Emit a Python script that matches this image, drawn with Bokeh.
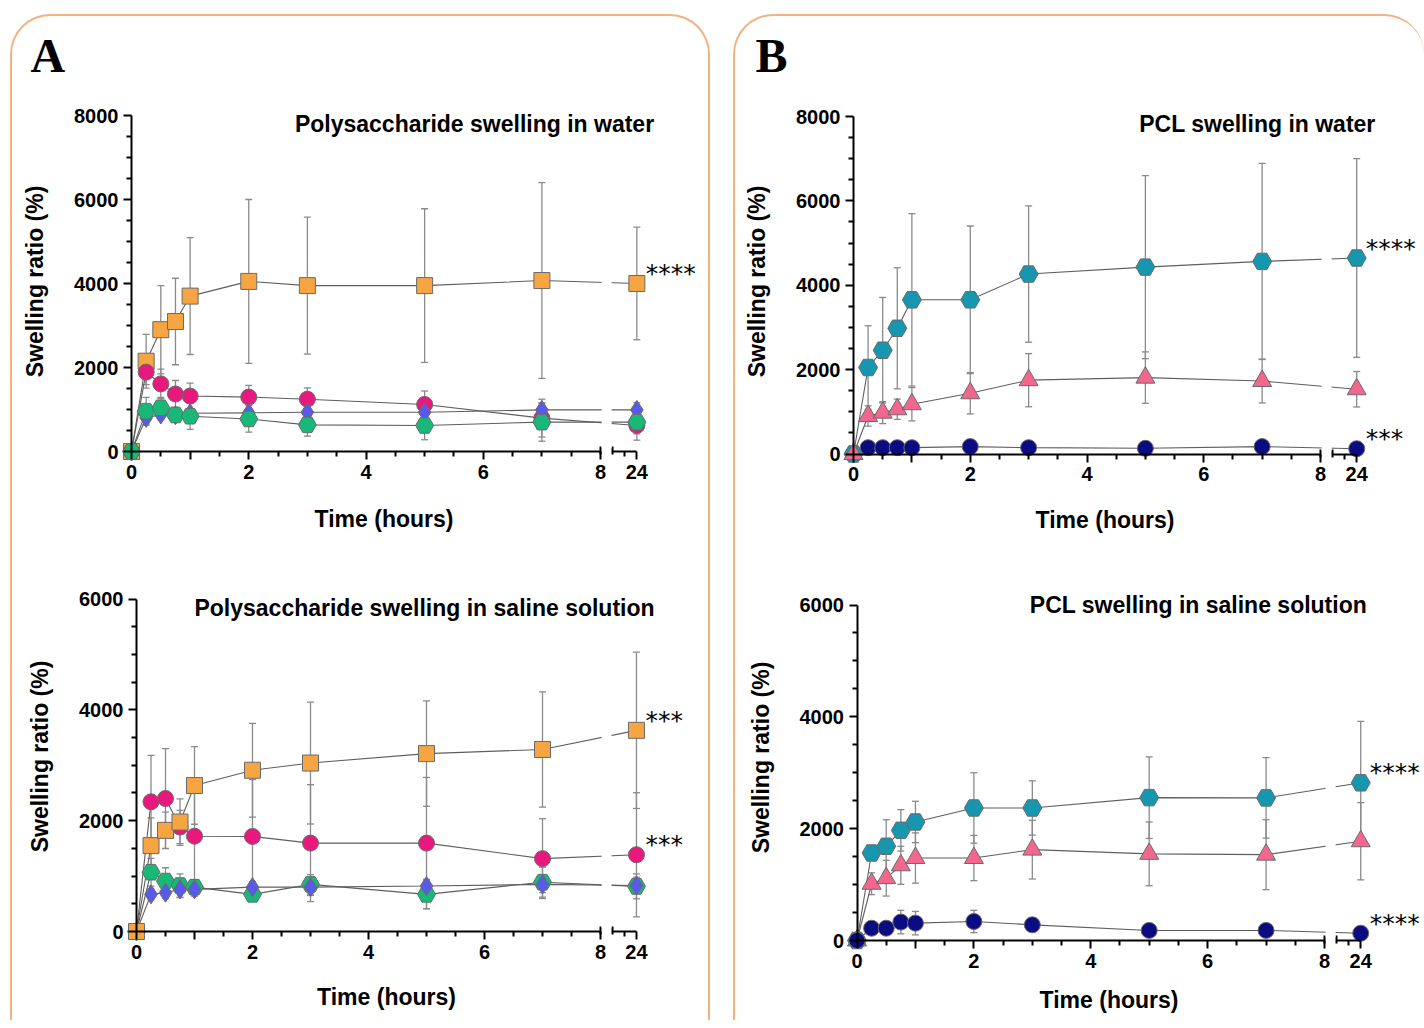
from bokeh.plotting import figure
from bokeh.models import (ColumnDataSource, Whisker, TeeHead, FixedTicker, LinearAxis, Label,
                          BoxAnnotation, Range1d, CustomJSTickFormatter)
from bokeh.layouts import column, row
from bokeh.embed import file_html
from bokeh.resources import INLINE
from bokeh.core.properties import value

# ---------------- data ----------------
TIMES = [0, 0.25, 0.5, 0.75, 1, 2, 3, 5, 7, 24]
X_MAJOR = [0, 1, 2, 4, 6, 8]
X_MINOR = [0.5, 1.5, 2.5, 3, 3.5, 4.5, 5, 5.5, 6.5, 7, 7.5]
BREAK_LABEL_HOUR = 24

# Panel A - polysaccharide in water
AW_SQUARE = [0, 2150, 2900, 3095, 3700, 4050, 3950, 3950, 4070, 4000]
AW_SQUARE_SD = [0, 640, 1050, 1030, 1390, 1950, 1630, 1830, 2330, 1340]
AW_CIRCLE = [0, 1890, 1610, 1370, 1320, 1295, 1245, 1120, 795, 620]
AW_CIRCLE_SD = [0, 300, 350, 320, 310, 280, 270, 320, 450, 350]
AW_DIAMOND = [0, 800, 880, 865, 910, 920, 935, 935, 990, 990]
AW_DIAMOND_SD = [0, 150, 120, 110, 100, 90, 80, 100, 160, 170]
AW_HEX = [0, 960, 1040, 870, 840, 775, 635, 620, 700, 700]
AW_HEX_SD = [0, 330, 250, 150, 315, 315, 270, 340, 455, 280]

# Panel A - polysaccharide in saline
AS_SQUARE = [0, 1550, 1825, 1975, 2635, 2910, 3040, 3210, 3285, 3630]
AS_SQUARE_SD = [0, 500, 330, 420, 700, 845, 1100, 950, 1040, 1410]
AS_CIRCLE = [0, 2340, 2400, 1885, 1720, 1715, 1595, 1595, 1315, 1385]
AS_CIRCLE_SD = [0, 840, 900, 300, 800, 1025, 1055, 1185, 720, 1120]
AS_DIAMOND = [0, 670, 700, 760, 760, 800, 800, 820, 850, 830]
AS_DIAMOND_SD = [0, 100, 100, 150, 120, 100, 150, 120, 150, 150]
AS_HEX = [0, 1070, 910, 830, 800, 670, 850, 670, 890, 815]
AS_HEX_SD = [0, 250, 240, 210, 100, 120, 175, 260, 270, 225]

# Panel B - PCL in water
BW_HEX = [0, 2050, 2460, 2980, 3655, 3655, 4265, 4430, 4565, 4645]
BW_HEX_SD = [0, 990, 1250, 1435, 2045, 1750, 1615, 2170, 2325, 2355]
BW_TRI = [0, 900, 980, 1060, 1180, 1440, 1750, 1810, 1730, 1535]
BW_TRI_SD = [0, 240, 260, 240, 395, 490, 630, 610, 520, 420]
BW_CIRCLE = [0, 150, 150, 150, 150, 175, 150, 135, 175, 125]
BW_CIRCLE_SD = [0, 20, 20, 20, 20, 30, 20, 20, 30, 20]

# Panel B - PCL in saline
BS_HEX = [0, 1565, 1685, 1970, 2120, 2370, 2370, 2555, 2550, 2820]
BS_HEX_SD = [0, 120, 475, 370, 370, 630, 485, 730, 720, 1100]
BS_TRI = [0, 1015, 1115, 1345, 1475, 1475, 1625, 1550, 1535, 1775]
BS_TRI_SD = [0, 195, 320, 340, 450, 405, 525, 570, 625, 690]
BS_CIRCLE = [0, 220, 220, 330, 310, 340, 280, 180, 180, 130]
BS_CIRCLE_SD = [0, 120, 60, 210, 210, 200, 40, 30, 30, 30]

TITLES = ["Polysaccharide swelling in water", "Polysaccharide swelling in saline solution",
          "PCL swelling in water", "PCL swelling in saline solution"]
Y_LABEL = "Swelling ratio (%)"
X_LABEL = "Time (hours)"

# ---------------- style ----------------
FONT = "Liberation Sans"
C_ORANGE = "#F7A443"
C_MAGENTA = "#E8187C"
C_BLUE = "#5A5AEA"
C_GREEN = "#17B878"
C_TEAL = "#1796AF"
C_PINK = "#F3678F"
C_NAVY = "#0C0C82"
EDGE = "#6a6a6a"
LINE_C = "#5e5e5e"
EB_C = "#8a8a8a"
BOX_C = "#F2B282"

# broken x axis: 0..8 h linear, then a short segment for 23..24 h
LEFT_END = 8.0
SEG_START = 8.21
SEG_SCALE = 0.41


def xpos(t):
    return t if t <= LEFT_END else SEG_START + (t - 23) * SEG_SCALE


def style_axis(ax):
    ax.axis_line_width = 2
    ax.axis_line_color = "black"
    ax.major_tick_line_width = 2
    ax.minor_tick_line_width = 2
    ax.major_tick_out = 8
    ax.major_tick_in = 0
    ax.minor_tick_out = 5
    ax.minor_tick_in = 0
    ax.major_label_standoff = 5
    ax.major_label_text_font = FONT
    ax.major_label_text_font_style = "bold"
    ax.major_label_text_font_size = "20px"
    ax.major_label_text_color = "black"
    ax.axis_label_text_font = FONT
    ax.axis_label_text_font_style = "bold"
    ax.axis_label_text_font_size = "23px"
    ax.axis_label_text_color = "black"


def label_axis(ax, text, standoff):
    style_axis(ax)
    ax.axis_line_alpha = 0
    ax.major_tick_line_alpha = 0
    ax.minor_tick_line_alpha = 0
    ax.axis_label = text
    ax.axis_label_standoff = standoff


def make_panel(box, calib, ymax, title, title_xy, xlab_standoff, ylab_center):
    """box = (left, top, width, height) of the figure on the page;
    calib = (px of x=0, px of x=8, px of y=0, px of y=ymax): where the axes sit."""
    L, T, W, H = box
    x0, x8, y0, ytop = calib
    sx = (x8 - x0) / 8.0
    sy = (y0 - ytop) / float(ymax)
    p = figure(width=W, height=H,
               x_range=Range1d((L - x0) / sx, (L + W - x0) / sx),
               y_range=Range1d((y0 - (T + H)) / sy, (y0 - T) / sy),
               output_backend="svg", toolbar_location=None,
               x_axis_location=None, y_axis_location=None,
               min_border=0)
    p.outline_line_color = None
    p.background_fill_color = None
    p.border_fill_color = None
    p.xgrid.visible = False
    p.ygrid.visible = False

    # y axis through x = 0
    yax = LinearAxis(fixed_location=0, bounds=(0, ymax),
                     ticker=FixedTicker(ticks=list(range(0, ymax + 1, 2000)),
                                        minor_ticks=[v for v in range(500, ymax, 500) if v % 2000]))
    style_axis(yax)
    p.add_layout(yax, "left")

    # y title carried by a bare axis
    c = (y0 - ylab_center) / sy
    ylab = LinearAxis(fixed_location=0, bounds=(c - ymax / 2, c + ymax / 2), ticker=FixedTicker(ticks=[]))
    label_axis(ylab, Y_LABEL, 84)
    p.add_layout(ylab, "left")

    # main x segment 0..8 h
    xax = LinearAxis(fixed_location=0, bounds=(0, LEFT_END),
                     ticker=FixedTicker(ticks=X_MAJOR, minor_ticks=X_MINOR),
                     formatter=CustomJSTickFormatter(code="return tick == 1 ? '' : String(tick)"))
    style_axis(xax)
    p.add_layout(xax, "below")

    # short segment after the break
    xax2 = LinearAxis(fixed_location=0, bounds=(xpos(23), xpos(BREAK_LABEL_HOUR)),
                      ticker=FixedTicker(ticks=[xpos(BREAK_LABEL_HOUR)], minor_ticks=[xpos(23.5)]),
                      formatter=CustomJSTickFormatter(args=dict(s=SEG_START, k=SEG_SCALE),
                                                      code="return String(Math.round(23 + (tick - s) / k))"))
    style_axis(xax2)
    p.add_layout(xax2, "below")

    # small caps marking the axis break
    caps = LinearAxis(fixed_location=0, bounds=(LEFT_END, xpos(23)),
                      ticker=FixedTicker(ticks=[LEFT_END, xpos(23)]),
                      formatter=CustomJSTickFormatter(code="return ''"))
    style_axis(caps)
    caps.axis_line_alpha = 0
    caps.major_tick_in = 5
    caps.major_tick_out = 3
    p.add_layout(caps, "below")

    # x title spanning the whole broken axis
    xlab = LinearAxis(fixed_location=0, bounds=(0, xpos(BREAK_LABEL_HOUR)), ticker=FixedTicker(ticks=[]))
    label_axis(xlab, X_LABEL, xlab_standoff)
    p.add_layout(xlab, "below")

    # white gap interrupting the lines at the axis break
    p.add_layout(BoxAnnotation(left=LEFT_END + 0.02, right=SEG_START - 0.02, bottom=0.01 * ymax,
                               fill_color="white", fill_alpha=1, line_alpha=0))

    p.add_layout(Label(x=title_xy[0] - L, y=T + H - title_xy[1], x_units="screen", y_units="screen",
                       text=title, text_font=FONT, text_font_style="bold", text_font_size="23px",
                       text_align="center", text_baseline="middle", text_color="black"))
    return p


def add_series(p, items):
    srcs = []
    for mean, sd, marker, size, color in items:
        src = ColumnDataSource(dict(x=[xpos(t) for t in TIMES], y=mean,
                                    upper=[m + s for m, s in zip(mean, sd)],
                                    lower=[m - s for m, s in zip(mean, sd)]))
        srcs.append((src, marker, size, color))
        p.add_layout(Whisker(source=src, base="x", upper="upper", lower="lower", level="underlay",
                             line_color=EB_C, line_width=1.3,
                             upper_head=TeeHead(size=7, line_color=EB_C, line_width=1.3),
                             lower_head=TeeHead(size=7, line_color=EB_C, line_width=1.3)))
    for src, marker, size, color in srcs:
        p.line("x", "y", source=src, line_color=LINE_C, line_width=1.1)
    for src, marker, size, color in srcs:
        p.scatter("x", "y", source=src, marker=marker, size=size, fill_color=color,
                  line_color=EDGE, line_width=1)


def add_stars(p, pairs):
    xs, ys, ts = [], [], []
    for series, txt in pairs:
        xs.append(xpos(TIMES[-1]))
        ys.append(series[-1])
        ts.append(txt)
    p.text(x=xs, y=ys, text=ts, x_offset=9, y_offset=-10, text_font=value("DejaVu Sans"),
           text_font_size="25px", text_baseline="alphabetic", text_align="left", text_color="black")


def add_letter(p, box, letter, left, center_y):
    L, T, W, H = box
    p.add_layout(Label(x=left - L, y=T + H - center_y, x_units="screen", y_units="screen", text=letter,
                       text_font="Liberation Serif", text_font_style="bold", text_font_size="48px",
                       text_baseline="middle", text_color="black"))


# ---------------- panels (page layout in px) ----------------
BOX_A1 = (12, 16, 696, 544)
BOX_A2 = (12, 560, 696, 460)
BOX_B1 = (735, 16, 689, 544)
BOX_B2 = (735, 560, 689, 460)

pA1 = make_panel(BOX_A1, (131, 600, 451, 115), 8000, TITLES[0], (474, 123), 54, 281)
add_series(pA1, [(AW_SQUARE, AW_SQUARE_SD, "square", 16, C_ORANGE),
                 (AW_CIRCLE, AW_CIRCLE_SD, "circle", 16, C_MAGENTA),
                 (AW_DIAMOND, AW_DIAMOND_SD, "diamond", 19, C_BLUE),
                 (AW_HEX, AW_HEX_SD, "hex", 18, C_GREEN)])
add_stars(pA1, [(AW_SQUARE, "****")])
add_letter(pA1, BOX_A1, "A", 30, 55)

pA2 = make_panel(BOX_A2, (136, 600, 931, 598.5), 6000, TITLES[1], (424, 607), 52, 756)
add_series(pA2, [(AS_HEX, AS_HEX_SD, "hex", 18, C_GREEN),
                 (AS_CIRCLE, AS_CIRCLE_SD, "circle", 16, C_MAGENTA),
                 (AS_DIAMOND, AS_DIAMOND_SD, "diamond", 19, C_BLUE),
                 (AS_SQUARE, AS_SQUARE_SD, "square", 16, C_ORANGE)])
add_stars(pA2, [(AS_SQUARE, "***"), (AS_CIRCLE, "***")])

pB1 = make_panel(BOX_B1, (853, 1320, 453.5, 116), 8000, TITLES[2], (1257, 123), 52, 281)
add_series(pB1, [(BW_CIRCLE, BW_CIRCLE_SD, "circle", 16, C_NAVY),
                 (BW_HEX, BW_HEX_SD, "hex", 19, C_TEAL),
                 (BW_TRI, BW_TRI_SD, "triangle", 19, C_PINK)])
add_stars(pB1, [(BW_HEX, "****"), (BW_CIRCLE, "***")])
add_letter(pB1, BOX_B1, "B", 755, 55)

pB2 = make_panel(BOX_B2, (856.5, 1324, 940, 604.5), 6000, TITLES[3], (1198, 604), 46, 757)
add_series(pB2, [(BS_TRI, BS_TRI_SD, "triangle", 19, C_PINK),
                 (BS_HEX, BS_HEX_SD, "hex", 19, C_TEAL),
                 (BS_CIRCLE, BS_CIRCLE_SD, "circle", 16, C_NAVY)])
add_stars(pB2, [(BS_HEX, "****"), (BS_CIRCLE, "****")])

boxA = column(pA1, pA2, spacing=0,
              styles={"border": f"2px solid {BOX_C}", "border-bottom": "none",
                      "border-radius": "40px 40px 0 0", "margin-left": "10px", "margin-top": "14px"})
boxB = column(pB1, pB2, spacing=0,
              styles={"border": f"2px solid {BOX_C}", "border-bottom": "none", "border-right": "none",
                      "border-radius": "40px 40px 0 0", "margin-left": "23px", "margin-top": "14px"})
root = row(boxA, boxB, spacing=0)

open("out.html", "w").write(file_html(root, INLINE))
